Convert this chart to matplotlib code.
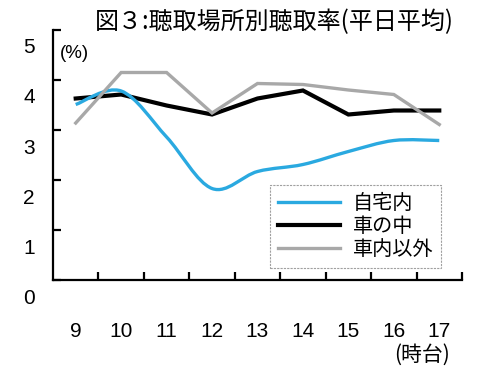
import matplotlib
matplotlib.use('Agg')
import matplotlib.pyplot as plt
from matplotlib.path import Path
from matplotlib.patches import PathPatch
from matplotlib.lines import Line2D
from matplotlib.transforms import ScaledTranslation

# 聴取場所別聴取率 (平日平均), 9時台〜17時台
hours = [9, 10, 11, 12, 13, 14, 15, 16, 17]
home = [3.51, 3.78, 2.86, 1.83, 2.17, 2.31, 2.57, 2.79, 2.79]     # 自宅内
car = [3.63, 3.71, 3.49, 3.31, 3.63, 3.79, 3.31, 3.39, 3.39]      # 車の中
other = [3.14, 4.15, 4.15, 3.34, 3.93, 3.91, 3.80, 3.71, 3.11]    # 車内以外
names = ['自宅内', '車の中', '車内以外']
yticks = [0, 1, 2, 3, 4, 5]

BLUE = '#2aa9e0'
GRAY = '#a8a8a8'
JP = ['Noto Sans CJK JP', 'DejaVu Sans']
NUM = ['Liberation Sans', 'DejaVu Sans']


def smooth_path(xs, ys):
    # smoothed line like the spreadsheet one: cubic bezier through every point
    pts = list(zip(xs, ys))
    verts = [pts[0]]
    codes = [Path.MOVETO]
    for i in range(len(pts) - 1):
        p0 = pts[i]
        p3 = pts[i + 1]
        prev = pts[i - 1] if i > 0 else p0
        nxt = pts[i + 2] if i + 2 < len(pts) else p3
        c1 = (p0[0] + (p3[0] - prev[0]) / 6, p0[1] + (p3[1] - prev[1]) / 6)
        c2 = (p3[0] - (nxt[0] - p0[0]) / 6, p3[1] - (nxt[1] - p0[1]) / 6)
        verts += [c1, c2, p3]
        codes += [Path.CURVE4] * 3
    return Path(verts, codes)


fig = plt.figure(figsize=(4.83, 3.74), dpi=100)
ax = fig.add_axes([0.1097, 0.2513, 0.8468, 0.6685])

ax.plot(hours, car, color='black', lw=3.0, solid_joinstyle='miter', zorder=3)
ax.add_patch(PathPatch(smooth_path(hours, home), fill=False, edgecolor=BLUE,
                       lw=2.4, zorder=4))
ax.plot(hours, other, color=GRAY, lw=2.4, solid_joinstyle='miter', zorder=5)

ax.set_xlim(8.5, 17.5)
ax.set_ylim(0, 5)

for s in ['top', 'right']:
    ax.spines[s].set_visible(False)
for s in ['left', 'bottom']:
    ax.spines[s].set_linewidth(1.6)

# x: labels at the hours, tick marks between them
ax.set_xticks(hours)
ax.set_xticklabels([str(h) for h in hours], fontsize=15, family=NUM)
ax.set_xticks([h + 0.5 for h in hours], minor=True)
ax.tick_params(axis='x', which='major', length=0, pad=30)
ax.tick_params(axis='x', which='minor', direction='in', length=6, width=1.6)

# y: labels sit a little below their tick marks
ax.set_yticks(yticks)
ax.set_yticklabels([str(v) for v in yticks], fontsize=15, family=NUM)
ax.tick_params(axis='y', direction='in', length=6, width=1.6, pad=13)
shift = ScaledTranslation(0, -0.16, fig.dpi_scale_trans)
for lab in ax.get_yticklabels():
    lab.set_transform(lab.get_transform() + shift)

fig.text(0.155, 0.858, '(%)', fontsize=13.5, family=NUM, ha='center', va='center')
fig.text(0.874, 0.052, '(時台)', fontsize=15, family=JP, ha='center', va='center')
fig.text(0.569, 0.941, '図３:聴取場所別聴取率(平日平均)', fontsize=17.3, family=JP,
         ha='center', va='center')

handles = [Line2D([], [], color=BLUE, lw=2.4),
           Line2D([], [], color='black', lw=3.0),
           Line2D([], [], color=GRAY, lw=2.4)]
leg = ax.legend(handles, names, loc='upper left', bbox_to_anchor=(0.559, 0.505),
                bbox_transform=fig.transFigure, borderaxespad=0, fancybox=False,
                prop={'family': JP, 'size': 14.5}, handlelength=3.1,
                handletextpad=0.6, labelspacing=0.1, borderpad=0.4)
frame = leg.get_frame()
frame.set_edgecolor('#888888')
frame.set_linestyle((0, (2, 1)))
frame.set_linewidth(0.8)

fig.savefig('out.png', dpi=100)
